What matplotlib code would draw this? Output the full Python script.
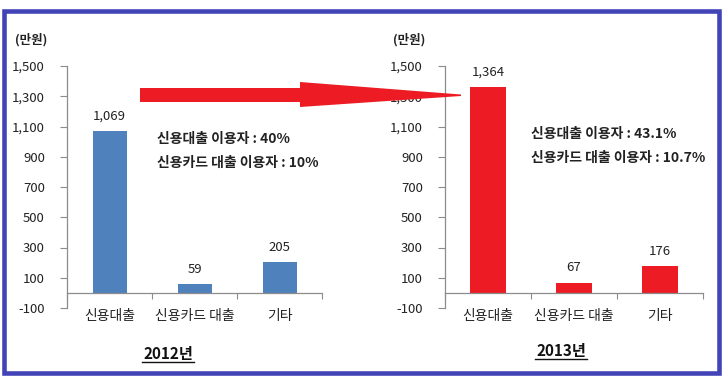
import matplotlib.pyplot as plt
from matplotlib.patches import Polygon, Rectangle
from matplotlib.lines import Line2D

plt.rcParams['font.family'] = ['Noto Sans CJK KR', 'DejaVu Sans']

# data
categories = ["신용대출", "신용카드 대출", "기타"]
values_2012 = [1069, 59, 205]
values_2013 = [1364, 67, 176]
notes_2012 = ["신용대출 이용자 : 40%", "신용카드 대출 이용자 : 10%"]
notes_2013 = ["신용대출 이용자 : 43.1%", "신용카드 대출 이용자 : 10.7%"]
yticks = list(range(-100, 1501, 200))

W, H = 728, 381
fig = plt.figure(figsize=(W / 100, H / 100), dpi=100)
fig.patch.set_facecolor("white")


def px(x, y):
    # pixel (top-left origin) -> figure fraction
    return x / W, 1 - y / H


def panel(left, right, values, color, width, unit_x, notes, note_x, note_y, year, year_x, year_y):
    x0, y1 = px(left, 66)
    x1, y0 = px(right, 308)
    ax = fig.add_axes([x0, y0, x1 - x0, y1 - y0])
    ax.set_xlim(-0.5, 2.5)
    ax.set_ylim(-100, 1500)
    ax.bar(range(3), values, width=width, color=color, zorder=2)
    for spine in ["top", "right"]:
        ax.spines[spine].set_visible(False)
    ax.spines["bottom"].set_position(("data", 0))
    for spine in ["left", "bottom"]:
        ax.spines[spine].set_color("#8c8c8c")
        ax.spines[spine].set_linewidth(0.9)
    ax.set_yticks(yticks)
    ax.set_yticklabels([f"{v:,}" for v in yticks])
    ax.tick_params(axis="y", direction="out", length=5, pad=11, colors="#8c8c8c",
                   labelcolor="#222222", labelsize=9.5)
    ax.set_xticks([-0.5, 0.5, 1.5, 2.5])
    ax.set_xticklabels([])
    ax.tick_params(axis="x", direction="out", length=4, colors="#8c8c8c")
    for i, (c, v) in enumerate(zip(categories, values)):
        ax.annotate(f"{v:,}", (i, v), xytext=(0, 6), textcoords="offset points",
                    ha="center", va="bottom", fontsize=9.5, color="#222222")
        ax.text(i, -152, c, ha="center", va="center", fontsize=10, color="#222222",
                clip_on=False)
    fx, fy = px(unit_x, 40)
    fig.text(fx, fy, "(만원)", ha="left", va="center", fontsize=9,
             fontweight="bold", color="#222222")
    for k, n in enumerate(notes):
        fx, fy = px(note_x, note_y + 24 * k)
        fig.text(fx, fy, n, ha="left", va="center", fontsize=10,
                 fontweight="bold", color="#222222")
    fx, fy = px(year_x, year_y)
    fig.text(fx, fy, year, ha="center", va="center", fontsize=11,
             fontweight="bold", color="#111111")
    ux0, uy = px(year_x - 26, year_y + 8)
    ux1, _ = px(year_x + 26, year_y + 8)
    fig.add_artist(Line2D([ux0, ux1], [uy, uy], color="#111111", linewidth=1.0,
                          transform=fig.transFigure))
    return ax


panel(67, 322, values_2012, "#4f81bd", 0.4, 15, notes_2012, 157, 139, "2012년", 168, 354)
panel(445, 703, values_2013, "#ed1c24", 0.43, 393, notes_2013, 531, 134, "2013년", 561, 351)

# arrow between panels
arrow_px = [(140, 88), (300, 88), (300, 82), (461, 94.5), (461, 96),
            (300, 107), (300, 102), (140, 102)]
fig.add_artist(Polygon([px(x, y) for x, y in arrow_px], closed=True,
                       facecolor="#ed1c24", edgecolor="none",
                       transform=fig.transFigure, zorder=10))

# outer frame
bx0, by1 = px(4, 10.5)
bx1, by0 = px(718.5, 372.5)
fig.add_artist(Rectangle((bx0, by0), bx1 - bx0, by1 - by0, fill=False,
                         edgecolor="#4343b8", linewidth=3.3,
                         transform=fig.transFigure, zorder=11))

fig.savefig("out.png", dpi=100, facecolor="white")
